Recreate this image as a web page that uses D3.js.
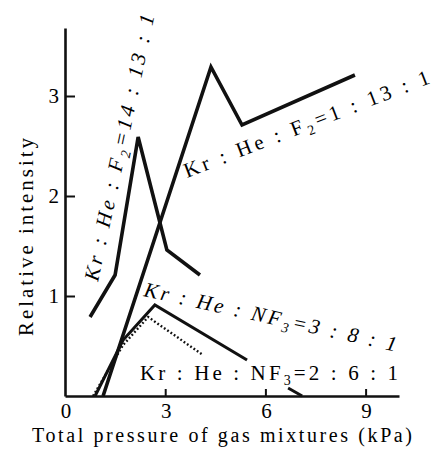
<!DOCTYPE html>
<html>
<head>
<meta charset="utf-8">
<script src="https://cdn.jsdelivr.net/npm/d3@7"></script>
<style>
  body { margin: 0; background: #fff; }
  svg { display: block; font-family: "Liberation Serif", "DejaVu Serif", serif; }
</style>
</head>
<body>
<svg id="chart" width="435" height="450"></svg>
<script>
// Data (x = total pressure in kPa, y = relative intensity)
const xTicks = [3, 6, 9];
const yTicks = [1, 2, 3];

const f2_1_13_1_x = [1.14, 4.37, 5.3, 8.68];
const f2_1_13_1_y = [0, 3.29, 2.71, 3.21];

const f2_14_13_1_x = [0.75, 1.5, 2.19, 3.05, 4.04];
const f2_14_13_1_y = [0.79, 1.21, 2.59, 1.46, 1.21];

// gap (null) where the line passes behind the lower label
const nf3_3_8_1_x = [0.9, 1.74, 2.69, 5.45, null, 6.68, 7.1];
const nf3_3_8_1_y = [0, 0.56, 0.91, 0.36, null, 0.08, 0];

const nf3_2_6_1_x = [0.84, 1.74, 2.49, 4.13];
const nf3_2_6_1_y = [0, 0.51, 0.79, 0.41];

const svg = d3.select("#chart");

const x = d3.scaleLinear().domain([0, 10]).range([65, 399]);
const y = d3.scaleLinear().domain([0, 3.68]).range([396, 28]);

const series = [
    { xs: f2_1_13_1_x, ys: f2_1_13_1_y, width: 3.6, dash: null },
    { xs: f2_14_13_1_x, ys: f2_14_13_1_y, width: 3.6, dash: null },
    { xs: nf3_3_8_1_x, ys: nf3_3_8_1_y, width: 3, dash: null },
    { xs: nf3_2_6_1_x, ys: nf3_2_6_1_y, width: 2.4, dash: "1.8 2.2" }
];

const line = d3.line()
    .defined(d => d[0] !== null)
    .x(d => x(d[0]))
    .y(d => y(d[1]));

series.forEach(s => {
    const pts = s.xs.map((v, i) => [v, s.ys[i]]);
    svg.append("path")
        .attr("d", line(pts))
        .attr("fill", "none")
        .attr("stroke", "#111")
        .attr("stroke-width", s.width)
        .attr("stroke-linejoin", "miter")
        .attr("stroke-dasharray", s.dash);
});

// Axes
const xAxis = svg.append("g")
    .attr("transform", `translate(0,${y(0)})`)
    .call(d3.axisBottom(x).tickValues(xTicks).tickSize(-7).tickSizeOuter(0).tickFormat(""));
xAxis.select(".domain").attr("stroke-width", 2.6).attr("stroke", "#111");
xAxis.selectAll(".tick line").attr("stroke-width", 2).attr("stroke", "#111");

const yAxis = svg.append("g")
    .attr("transform", `translate(${x(0)},0)`)
    .call(d3.axisLeft(y).tickValues(yTicks).tickSize(-10).tickSizeOuter(0).tickFormat(""));
yAxis.select(".domain").attr("stroke-width", 2.6).attr("stroke", "#111");
yAxis.selectAll(".tick line").attr("stroke-width", 2).attr("stroke", "#111");

// Tick labels
svg.selectAll(".xlab")
    .data([0].concat(xTicks))
    .enter().append("text")
    .attr("x", d => x(d) + 1)
    .attr("y", 418)
    .attr("text-anchor", "middle")
    .style("font-size", "21px")
    .text(d => d);

svg.selectAll(".ylab")
    .data(yTicks)
    .enter().append("text")
    .attr("x", 59)
    .attr("y", d => y(d) + 7)
    .attr("text-anchor", "end")
    .style("font-size", "21px")
    .text(d => d);

// Axis titles
svg.append("text")
    .attr("transform", "translate(33,237) rotate(-90)")
    .attr("text-anchor", "middle")
    .attr("textLength", 198)
    .attr("lengthAdjust", "spacing")
    .style("font-size", "21px")
    .text("Relative intensity");

svg.append("text")
    .attr("x", 222)
    .attr("y", 442)
    .attr("text-anchor", "middle")
    .attr("textLength", 380)
    .attr("lengthAdjust", "spacing")
    .style("font-size", "20px")
    .text("Total pressure of gas mixtures (kPa)");

// Curve labels: start point in px, rotation, text length
function curveLabel(px, py, angle, len, italic, gas, ratio) {
    const t = svg.append("text")
        .attr("transform", `translate(${px},${py}) rotate(${angle})`)
        .attr("textLength", len)
        .attr("lengthAdjust", "spacing")
        .style("font-size", "21px")
        .style("font-style", italic ? "italic" : "normal");
    t.append("tspan").text("Kr : He : " + gas[0]);
    t.append("tspan").attr("dy", 5).style("font-size", "14px").text(gas[1]);
    t.append("tspan").attr("dy", -5).text("=" + ratio);
}

curveLabel(98, 282, -78, 272, true, ["F", "2"], "14 : 13 : 1");
curveLabel(187, 178, -21.3, 262, false, ["F", "2"], "1 : 13 : 1");
curveLabel(143, 296, 12.4, 258, true, ["NF", "3"], "3 : 8 : 1");
curveLabel(140, 380, 0, 258, false, ["NF", "3"], "2 : 6 : 1");
</script>
</body>
</html>
